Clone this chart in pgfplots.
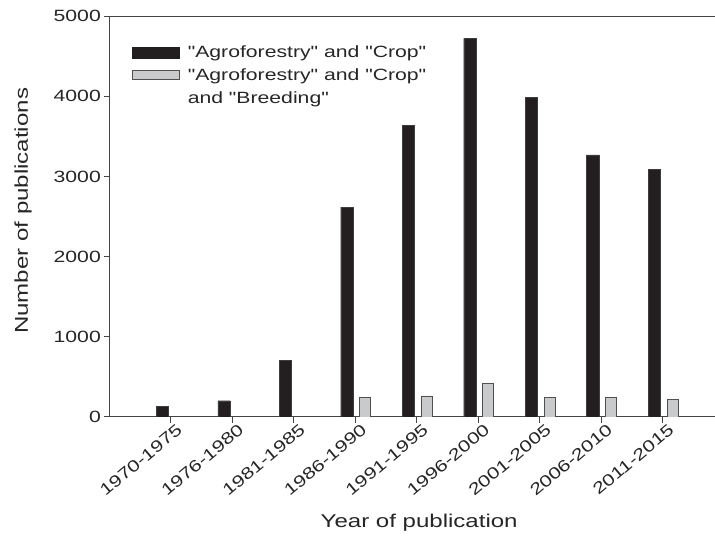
\documentclass[border=0pt]{standalone}
\usepackage{fontspec}
\setmainfont{Liberation Sans}[Ligatures=TeXOff, FakeStretch=1.3]
\usepackage{pgfplots}
\pgfplotsset{compat=1.18}
\usetikzlibrary{calc}
\definecolor{barblack}{HTML}{231F20}
\definecolor{bargray}{HTML}{C9CACB}
\definecolor{bargrayedge}{HTML}{505050}
\definecolor{axisgray}{HTML}{454545}
\begin{document}
\begin{tikzpicture}
\begin{axis}[
  scale only axis,
  width=605pt, height=401pt,
  xmin=-0.99, xmax=8.85,
  ymin=0, ymax=5000,
  axis y line*=left,
  axis line style={axisgray, line width=1pt},
  every tick/.style={axisgray, line width=1pt},
  tick align=outside,
  major tick length=6pt,
  xtick pos=bottom, ytick pos=left,
  xtick={0,...,8},
  xticklabels={1970-1975,1976-1980,1981-1985,1986-1990,1991-1995,1996-2000,2001-2005,2006-2010,2011-2015},
  ytick={0,1000,...,5000},
  scaled y ticks=false,
  /pgf/number format/1000 sep={},
  /pgf/number format/assume math mode=true,
  tick label style={font=\fontsize{16.3}{19}\selectfont, text=black!85},
  x tick label style={rotate=40, anchor=north east, inner sep=1pt, xshift=5pt, yshift=-2pt},
  y tick label style={inner sep=3pt},
  every axis y label/.style={at={(axis description cs:-0.1438,0.514)}, rotate=90, anchor=center, font=\fontsize{18.5}{22}\selectfont, text=black!85},
  every axis x label/.style={at={(axis description cs:0.511,-0.264)}, anchor=center, font=\fontsize{18.5}{22}\selectfont, text=black!85},
  ylabel={Number of publications},
  xlabel={Year of publication},
  legend cell align=left,
  legend style={at={(axis description cs:0.031,0.934)}, anchor=north west, draw=none, fill=none,
    font=\fontsize{16.3}{19}\selectfont, text=black!85, row sep=7.5pt, column sep=7pt,
    nodes={inner sep=1pt}},
]
\addplot[ybar, bar width=0.2, bar shift=-0.137, fill=barblack, draw=barblack!70!gray, line width=0.4pt,
  legend image code/.code={\draw[fill=barblack, draw=barblack] (0pt,-5.5pt) rectangle (47pt,5.5pt);}]
  coordinates {(0,137) (1,203) (2,702) (3,2618) (4,3636) (5,4721) (6,3985) (7,3267) (8,3092)};
\addlegendentry{"Agroforestry" and "Crop"}
\addplot[ybar, bar width=0.18, bar shift=0.163, fill=bargray, draw=bargrayedge, line width=0.8pt,
  legend image code/.code={\draw[fill=bargray, draw=bargrayedge, line width=0.8pt] (0pt,-4.5pt) rectangle (47pt,4.5pt);}]
  coordinates {(3,241) (4,262) (5,415) (6,241) (7,241) (8,220)};
\addlegendentry{"Agroforestry" and "Crop"}
\addlegendimage{empty legend}
\addlegendentry{and "Breeding"}
\coordinate (sw) at (rel axis cs:0,0);
\coordinate (ne) at (rel axis cs:1,1);
\end{axis}
\pgfresetboundingbox
\path ($(sw)+(-110pt,-123pt)$) rectangle ($(ne)+(0pt,16pt)$);
\end{tikzpicture}
\end{document}
